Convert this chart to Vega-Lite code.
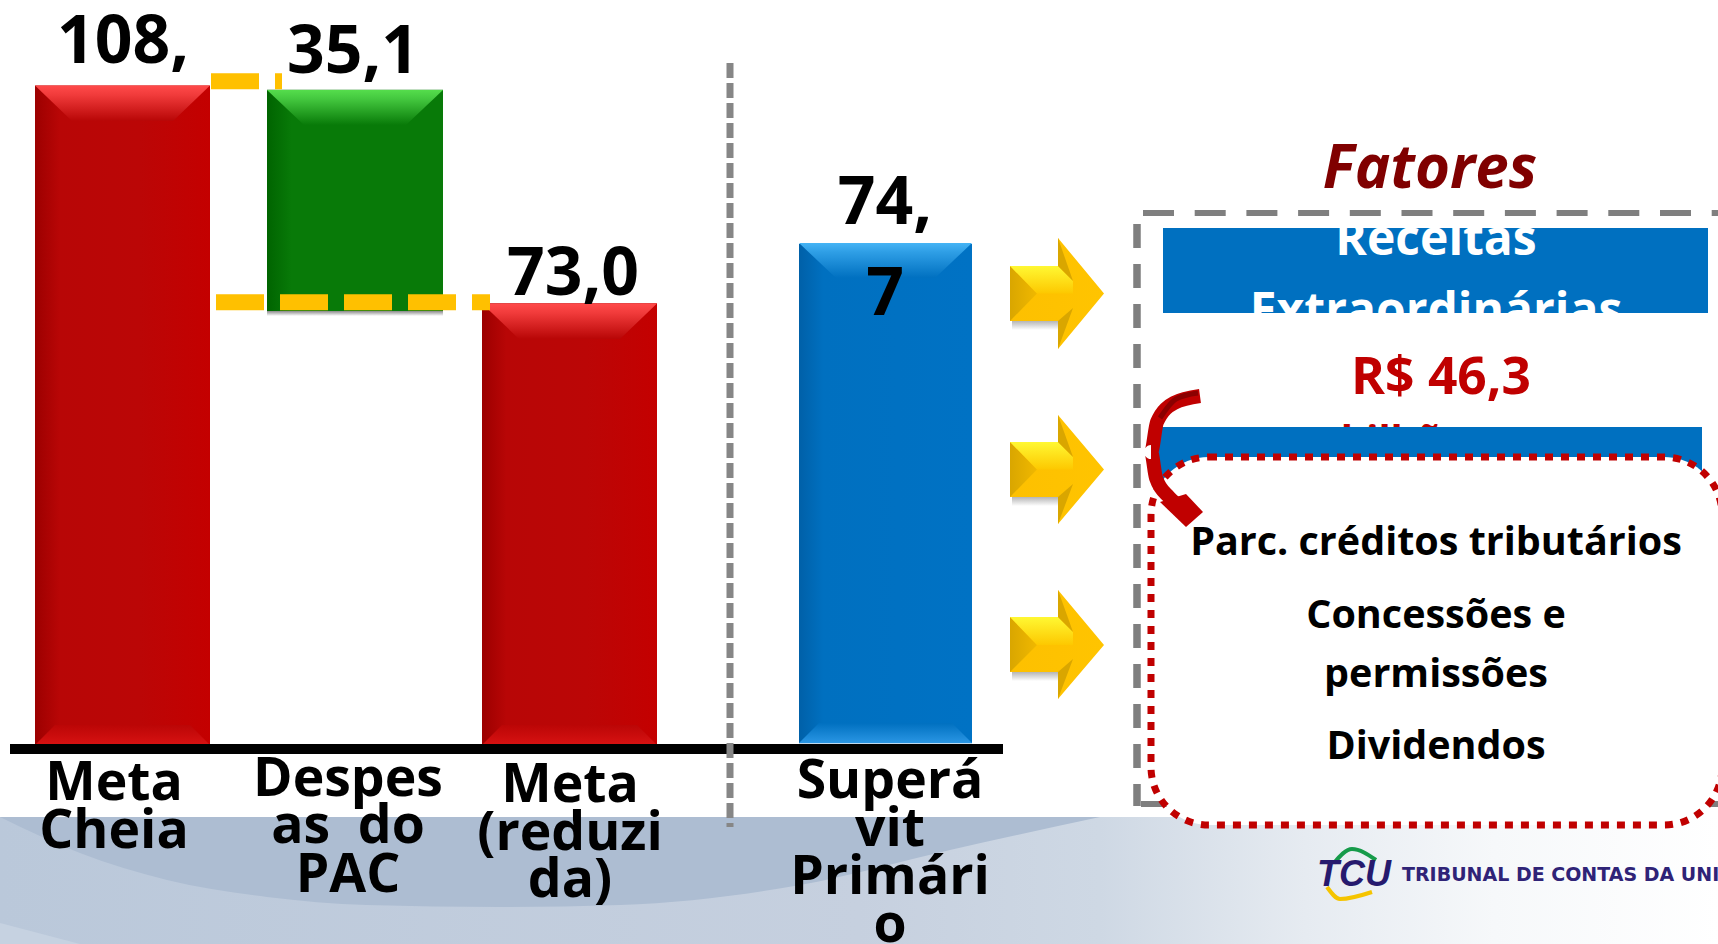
{"$schema":"https://vega.github.io/schema/vega-lite/v6.json","width":1718,"height":944,"padding":0,"autosize":{"type":"none"},"background":"white","config":{"view":{"stroke":null},"axis":{"disable":true},"legend":{"disable":true}},"resolve":{"scale":{"y":"independent"}},"layer":[
{"data":{"values":[{"a":0,"b":1718,"t":817,"u":944}]},"mark":{"type":"rect","color":{"gradient":"linear","x1":0,"x2":1,"y1":0,"y2":0,"stops":[{"offset":0,"color":"#bac8da"},{"offset":0.5,"color":"#c6d0df"},{"offset":0.64,"color":"#ced8e4"},{"offset":0.76,"color":"#e6ebf1"},{"offset":0.87,"color":"#f6f8fa"},{"offset":1,"color":"#ffffff"}]}},"encoding":{"x":{"field":"a","type":"quantitative","scale":{"domain":[0,1718],"nice":false,"zero":false},"axis":null},"x2":{"field":"b"},"y":{"field":"t","type":"quantitative","scale":{"domain":[944,0],"nice":false,"zero":false},"axis":null},"y2":{"field":"u"}}},
{"data":{"values":[{"x":0,"y":923,"f":944},{"x":80,"y":944,"f":944}]},"mark":{"type":"area","orient":"vertical","color":"#c6d2e1"},"encoding":{"x":{"field":"x","type":"quantitative","axis":null},"y":{"field":"y","type":"quantitative","scale":{"domain":[944,0],"nice":false,"zero":false},"axis":null},"y2":{"field":"f"}}},
{"data":{"values":[{"x":0,"y":817,"f":817},{"x":80,"y":817,"f":853},{"x":167,"y":817,"f":880},{"x":267,"y":817,"f":897},{"x":367,"y":817,"f":905},{"x":500,"y":817,"f":907},{"x":620,"y":817,"f":905},{"x":800,"y":817,"f":885},{"x":950,"y":817,"f":850},{"x":1100,"y":817,"f":817}]},"mark":{"type":"area","orient":"vertical","interpolate":"monotone","color":"#adbdd2"},"encoding":{"x":{"field":"x","type":"quantitative","axis":null},"y":{"field":"y","type":"quantitative","scale":{"domain":[944,0],"nice":false,"zero":false},"axis":null},"y2":{"field":"f"}}},
{"data":{"values":[{"categoria":"Meta Cheia","x0":35,"x1":210,"base":0,"topo":108.1},{"categoria":"Meta (reduzida)","x0":482,"x1":657,"base":0,"topo":72.4}]},"mark":{"type":"rect","color":{"gradient":"linear","x1":0,"x2":1,"y1":0,"y2":0,"stops":[{"offset":0,"color":"#9c0000"},{"offset":0.14,"color":"#b80606"},{"offset":0.6,"color":"#bb0606"},{"offset":1,"color":"#c40000"}]}},"encoding":{"x":{"field":"x0","type":"quantitative","axis":null},"x2":{"field":"x1"},"y":{"field":"topo","type":"quantitative","scale":{"domain":[-32.6,122.1],"nice":false,"zero":false},"axis":null},"y2":{"field":"base"}}},
{"data":{"values":[{"categoria":"Despesas do PAC","x0":267,"x1":443,"base":71.1,"topo":107.4}]},"mark":{"type":"rect","color":{"gradient":"linear","x1":0,"x2":1,"y1":0,"y2":0,"stops":[{"offset":0,"color":"#006400"},{"offset":0.14,"color":"#087a08"},{"offset":1,"color":"#087a08"}]}},"encoding":{"x":{"field":"x0","type":"quantitative","axis":null},"x2":{"field":"x1"},"y":{"field":"topo","type":"quantitative","scale":{"domain":[-32.6,122.1],"nice":false,"zero":false},"axis":null},"y2":{"field":"base"}}},
{"data":{"values":[{"categoria":"Superávit Primário","x0":799,"x1":972,"base":0.3,"topo":82.1}]},"mark":{"type":"rect","color":{"gradient":"linear","x1":0,"x2":1,"y1":0,"y2":0,"stops":[{"offset":0,"color":"#0060a8"},{"offset":0.14,"color":"#0070c0"},{"offset":1,"color":"#0072c4"}]}},"encoding":{"x":{"field":"x0","type":"quantitative","axis":null},"x2":{"field":"x1"},"y":{"field":"topo","type":"quantitative","scale":{"domain":[-32.6,122.1],"nice":false,"zero":false},"axis":null},"y2":{"field":"base"}}},
{"data":{"values":[{"d":"a","x":35,"y":85.5,"f":85.5},{"d":"a","x":72,"y":85.5,"f":121},{"d":"a","x":173,"y":85.5,"f":121},{"d":"a","x":210,"y":85.5,"f":85.5},{"d":"b","x":482,"y":303.5,"f":303.5},{"d":"b","x":519,"y":303.5,"f":339},{"d":"b","x":620,"y":303.5,"f":339},{"d":"b","x":657,"y":303.5,"f":303.5}]},"mark":{"type":"area","orient":"vertical","color":{"gradient":"linear","x1":0,"x2":0,"y1":0,"y2":1,"stops":[{"offset":0,"color":"#ff4a4a"},{"offset":0.25,"color":"#f23c3c"},{"offset":1,"color":"#b80606"}]}},"encoding":{"detail":{"field":"d"},"x":{"field":"x","type":"quantitative","axis":null},"y":{"field":"y","type":"quantitative","scale":{"domain":[944,0],"nice":false,"zero":false},"axis":null},"y2":{"field":"f"}}},
{"data":{"values":[{"d":"a","x":35,"y":745,"f":745},{"d":"a","x":55,"y":725,"f":745},{"d":"a","x":190,"y":725,"f":745},{"d":"a","x":210,"y":745,"f":745},{"d":"b","x":482,"y":745,"f":745},{"d":"b","x":502,"y":725,"f":745},{"d":"b","x":637,"y":725,"f":745},{"d":"b","x":657,"y":745,"f":745}]},"mark":{"type":"area","orient":"vertical","color":{"gradient":"linear","x1":0,"x2":0,"y1":0,"y2":1,"stops":[{"offset":0,"color":"#bb0606"},{"offset":1,"color":"#d81212"}]}},"encoding":{"detail":{"field":"d"},"x":{"field":"x","type":"quantitative","axis":null},"y":{"field":"y","type":"quantitative","scale":{"domain":[944,0],"nice":false,"zero":false},"axis":null},"y2":{"field":"f"}}},
{"data":{"values":[{"x":799,"y":743,"f":743},{"x":819,"y":723,"f":743},{"x":952,"y":723,"f":743},{"x":972,"y":743,"f":743}]},"mark":{"type":"area","orient":"vertical","color":{"gradient":"linear","x1":0,"x2":0,"y1":0,"y2":1,"stops":[{"offset":0,"color":"#0070c0"},{"offset":1,"color":"#2a96e4"}]}},"encoding":{"x":{"field":"x","type":"quantitative","axis":null},"y":{"field":"y","type":"quantitative","scale":{"domain":[944,0],"nice":false,"zero":false},"axis":null},"y2":{"field":"f"}}},
{"data":{"values":[{"x":267,"y":90,"f":90},{"x":304,"y":90,"f":125},{"x":406,"y":90,"f":125},{"x":443,"y":90,"f":90}]},"mark":{"type":"area","orient":"vertical","color":{"gradient":"linear","x1":0,"x2":0,"y1":0,"y2":1,"stops":[{"offset":0,"color":"#55dd4c"},{"offset":0.25,"color":"#44c83f"},{"offset":1,"color":"#087a08"}]}},"encoding":{"x":{"field":"x","type":"quantitative","axis":null},"y":{"field":"y","type":"quantitative","scale":{"domain":[944,0],"nice":false,"zero":false},"axis":null},"y2":{"field":"f"}}},
{"data":{"values":[{"x":799,"y":243,"f":243},{"x":836,"y":243,"f":278},{"x":935,"y":243,"f":278},{"x":972,"y":243,"f":243}]},"mark":{"type":"area","orient":"vertical","color":{"gradient":"linear","x1":0,"x2":0,"y1":0,"y2":1,"stops":[{"offset":0,"color":"#45b4f5"},{"offset":0.25,"color":"#2f9fe6"},{"offset":1,"color":"#0070c0"}]}},"encoding":{"x":{"field":"x","type":"quantitative","axis":null},"y":{"field":"y","type":"quantitative","scale":{"domain":[944,0],"nice":false,"zero":false},"axis":null},"y2":{"field":"f"}}},
{"data":{"values":[{"a":267,"b":443,"t":311,"u":316}]},"mark":{"type":"rect","color":{"gradient":"linear","x1":0,"x2":0,"y1":0,"y2":1,"stops":[{"offset":0,"color":"#8a8a8a"},{"offset":1,"color":"#ffffff"}]}},"encoding":{"x":{"field":"a","type":"quantitative","axis":null},"x2":{"field":"b"},"y":{"field":"t","type":"quantitative","scale":{"domain":[944,0],"nice":false,"zero":false},"axis":null},"y2":{"field":"u"}}},
{"data":{"values":[{"a":10,"b":1003,"t":744,"u":754}]},"mark":{"type":"rect","color":"#000000"},"encoding":{"x":{"field":"a","type":"quantitative","axis":null},"x2":{"field":"b"},"y":{"field":"t","type":"quantitative","scale":{"domain":[944,0],"nice":false,"zero":false},"axis":null},"y2":{"field":"u"}}},
{"data":{"values":[{"a":730,"t":63,"u":827}]},"mark":{"type":"rule","color":"#868686","strokeWidth":7,"strokeDash":[15,5]},"encoding":{"x":{"field":"a","type":"quantitative","axis":null},"y":{"field":"t","type":"quantitative","scale":{"domain":[944,0],"nice":false,"zero":false},"axis":null},"y2":{"field":"u"}}},
{"data":{"values":[{"a":211,"b":282,"t":81.3},{"a":216,"b":490,"t":302.3}]},"mark":{"type":"rule","color":"#ffc000","strokeWidth":16,"strokeDash":[48,16]},"encoding":{"x":{"field":"a","type":"quantitative","axis":null},"x2":{"field":"b"},"y":{"field":"t","type":"quantitative","scale":{"domain":[944,0],"nice":false,"zero":false},"axis":null}}},
{"data":{"values":[{"a":1143,"b":1718,"t":213},{"a":1141,"b":1718,"t":804}]},"mark":{"type":"rule","color":"#7f7f7f","strokeWidth":6,"strokeDash":[31,20.7]},"encoding":{"x":{"field":"a","type":"quantitative","axis":null},"x2":{"field":"b"},"y":{"field":"t","type":"quantitative","scale":{"domain":[944,0],"nice":false,"zero":false},"axis":null}}},
{"data":{"values":[{"a":1137,"t":224,"u":806}]},"mark":{"type":"rule","color":"#7f7f7f","strokeWidth":7.5,"strokeDash":[24,16]},"encoding":{"x":{"field":"a","type":"quantitative","axis":null},"y":{"field":"t","type":"quantitative","scale":{"domain":[944,0],"nice":false,"zero":false},"axis":null},"y2":{"field":"u"}}},
{"data":{"values":[{"d":"a1","a":1012,"b":1060,"t":321,"u":330},{"d":"a2","a":1012,"b":1060,"t":497,"u":506},{"d":"a3","a":1012,"b":1060,"t":672,"u":681}]},"mark":{"type":"rect","color":{"gradient":"linear","x1":0,"x2":0,"y1":0,"y2":1,"stops":[{"offset":0,"color":"#b5b5b5"},{"offset":1,"color":"#ffffff"}]}},"encoding":{"x":{"field":"a","type":"quantitative","axis":null},"x2":{"field":"b"},"y":{"field":"t","type":"quantitative","scale":{"domain":[944,0],"nice":false,"zero":false},"axis":null},"y2":{"field":"u"}}},
{"data":{"values":[{"d":"a1","x":1010,"y":266,"f":321},{"d":"a1","x":1058,"y":266,"f":321},{"d":"a1","x":1058,"y":238,"f":349},{"d":"a1","x":1104,"y":293.5,"f":293.5},{"d":"a2","x":1010,"y":442,"f":497},{"d":"a2","x":1058,"y":442,"f":497},{"d":"a2","x":1058,"y":415,"f":524},{"d":"a2","x":1104,"y":469.5,"f":469.5},{"d":"a3","x":1010,"y":617,"f":672},{"d":"a3","x":1058,"y":617,"f":672},{"d":"a3","x":1058,"y":590,"f":699},{"d":"a3","x":1104,"y":645,"f":645}]},"mark":{"type":"area","orient":"vertical","color":{"gradient":"linear","x1":0,"x2":1,"y1":0,"y2":0,"stops":[{"offset":0,"color":"#fdc000"},{"offset":1,"color":"#ffc400"}]}},"encoding":{"detail":{"field":"d"},"x":{"field":"x","type":"quantitative","axis":null},"y":{"field":"y","type":"quantitative","scale":{"domain":[944,0],"nice":false,"zero":false},"axis":null},"y2":{"field":"f"}}},
{"data":{"values":[{"d":"a1","x":1010,"y":266,"f":321},{"d":"a1","x":1037,"y":293.5,"f":293.5},{"d":"a2","x":1010,"y":442,"f":497},{"d":"a2","x":1037,"y":469.5,"f":469.5},{"d":"a3","x":1010,"y":617,"f":672},{"d":"a3","x":1037,"y":645,"f":645}]},"mark":{"type":"area","orient":"vertical","color":{"gradient":"linear","x1":0,"x2":1,"y1":0,"y2":0,"stops":[{"offset":0,"color":"#d9a600"},{"offset":1,"color":"#f0b800"}]}},"encoding":{"detail":{"field":"d"},"x":{"field":"x","type":"quantitative","axis":null},"y":{"field":"y","type":"quantitative","scale":{"domain":[944,0],"nice":false,"zero":false},"axis":null},"y2":{"field":"f"}}},
{"data":{"values":[{"d":"a1","x":1010,"y":266,"f":266},{"d":"a1","x":1037,"y":266,"f":293.5},{"d":"a1","x":1058,"y":266,"f":293.5},{"d":"a1","x":1073,"y":281,"f":293.5},{"d":"a2","x":1010,"y":442,"f":442},{"d":"a2","x":1037,"y":442,"f":469.5},{"d":"a2","x":1058,"y":442,"f":469.5},{"d":"a2","x":1073,"y":457,"f":469.5},{"d":"a3","x":1010,"y":617,"f":617},{"d":"a3","x":1037,"y":617,"f":645},{"d":"a3","x":1058,"y":617,"f":645},{"d":"a3","x":1073,"y":632,"f":645}]},"mark":{"type":"area","orient":"vertical","color":{"gradient":"linear","x1":0,"x2":0,"y1":0,"y2":1,"stops":[{"offset":0,"color":"#fff833"},{"offset":1,"color":"#fdc800"}]}},"encoding":{"detail":{"field":"d"},"x":{"field":"x","type":"quantitative","axis":null},"y":{"field":"y","type":"quantitative","scale":{"domain":[944,0],"nice":false,"zero":false},"axis":null},"y2":{"field":"f"}}},
{"data":{"values":[{"d":"a1u","x":1058,"y":238,"f":266},{"d":"a1u","x":1073,"y":281,"f":281},{"d":"a1l","x":1058,"y":321,"f":349},{"d":"a1l","x":1073,"y":308,"f":308},{"d":"a2u","x":1058,"y":415,"f":442},{"d":"a2u","x":1073,"y":457,"f":457},{"d":"a2l","x":1058,"y":497,"f":524},{"d":"a2l","x":1073,"y":484,"f":484},{"d":"a3u","x":1058,"y":590,"f":617},{"d":"a3u","x":1073,"y":632,"f":632},{"d":"a3l","x":1058,"y":672,"f":699},{"d":"a3l","x":1073,"y":659,"f":659}]},"mark":{"type":"area","orient":"vertical","color":"#d9a600"},"encoding":{"detail":{"field":"d"},"x":{"field":"x","type":"quantitative","axis":null},"y":{"field":"y","type":"quantitative","scale":{"domain":[944,0],"nice":false,"zero":false},"axis":null},"y2":{"field":"f"}}},
{"data":{"values":[{"t":"bilhões","x":1413,"y":454}]},"mark":{"type":"text","font":"Open Sans","fontWeight":"bold","fontSize":40,"color":"#c00000","align":"center","baseline":"alphabetic"},"encoding":{"text":{"field":"t"},"x":{"field":"x","type":"quantitative","axis":null},"y":{"field":"y","type":"quantitative","scale":{"domain":[944,0],"nice":false,"zero":false},"axis":null}}},
{"data":{"values":[{"a":1163,"b":1708,"t":228,"u":313},{"a":1158,"b":1702,"t":427,"u":480}]},"mark":{"type":"rect","color":"#0070c0"},"encoding":{"x":{"field":"a","type":"quantitative","axis":null},"x2":{"field":"b"},"y":{"field":"t","type":"quantitative","scale":{"domain":[944,0],"nice":false,"zero":false},"axis":null},"y2":{"field":"u"}}},
{"data":{"values":[{"t":"Receitas","x":1436,"y":255},{"t":"Extraordinárias","x":1436,"y":327}]},"mark":{"type":"text","font":"Open Sans","fontWeight":"bold","fontSize":48,"color":"#ffffff","align":"center","baseline":"alphabetic"},"encoding":{"text":{"field":"t"},"x":{"field":"x","type":"quantitative","axis":null},"y":{"field":"y","type":"quantitative","scale":{"domain":[944,0],"nice":false,"zero":false},"axis":null}}},
{"data":{"values":[{"a":1151,"b":1722,"t":457,"u":825}]},"mark":{"type":"rect","fill":"#ffffff","stroke":"#c00000","strokeWidth":7,"strokeDash":[8,8],"cornerRadius":58},"encoding":{"x":{"field":"a","type":"quantitative","axis":null},"x2":{"field":"b"},"y":{"field":"t","type":"quantitative","scale":{"domain":[944,0],"nice":false,"zero":false},"axis":null},"y2":{"field":"u"}}},
{"data":{"values":[{"x":1200,"y":396,"n":1},{"x":1174,"y":403,"n":2},{"x":1157,"y":422,"n":3},{"x":1151,"y":452,"n":4},{"x":1156,"y":478,"n":5},{"x":1169,"y":497,"n":6},{"x":1183,"y":508,"n":7}]},"mark":{"type":"line","color":"#c00000","strokeWidth":14,"interpolate":"monotone","orient":"horizontal"},"encoding":{"order":{"field":"n"},"x":{"field":"x","type":"quantitative","axis":null},"y":{"field":"y","type":"quantitative","scale":{"domain":[944,0],"nice":false,"zero":false},"axis":null}}},
{"data":{"values":[{"x":1198,"y":393,"n":1},{"x":1176,"y":399,"n":2},{"x":1160,"y":418,"n":3}]},"mark":{"type":"line","color":"#8b0000","strokeWidth":5,"interpolate":"monotone","orient":"horizontal"},"encoding":{"order":{"field":"n"},"x":{"field":"x","type":"quantitative","axis":null},"y":{"field":"y","type":"quantitative","scale":{"domain":[944,0],"nice":false,"zero":false},"axis":null}}},
{"data":{"values":[{"x":1160,"y":502,"f":502},{"x":1186,"y":494,"f":527},{"x":1203,"y":512,"f":512}]},"mark":{"type":"area","orient":"vertical","color":"#c00000"},"encoding":{"x":{"field":"x","type":"quantitative","axis":null},"y":{"field":"y","type":"quantitative","scale":{"domain":[944,0],"nice":false,"zero":false},"axis":null},"y2":{"field":"f"}}},
{"data":{"values":[{"t":"108,","x":123,"y":63},{"t":"35,1","x":353,"y":73},{"t":"73,0","x":573,"y":295},{"t":"74,","x":885,"y":224},{"t":"7","x":885,"y":315}]},"mark":{"type":"text","font":"Open Sans","fontWeight":"bold","fontSize":66,"color":"#000000","align":"center","baseline":"alphabetic"},"encoding":{"text":{"field":"t"},"x":{"field":"x","type":"quantitative","axis":null},"y":{"field":"y","type":"quantitative","scale":{"domain":[944,0],"nice":false,"zero":false},"axis":null}}},
{"data":{"values":[{"t":"Meta","x":114,"y":800},{"t":"Cheia","x":114,"y":848},{"t":"Despes","x":348,"y":796},{"t":"as\u00a0\u00a0do","x":348,"y":843},{"t":"PAC","x":348,"y":892},{"t":"Meta","x":570,"y":802},{"t":"(reduzi","x":570,"y":850},{"t":"da)","x":570,"y":897},{"t":"Superá","x":890,"y":798},{"t":"vit","x":890,"y":846},{"t":"Primári","x":890,"y":894},{"t":"o","x":890,"y":942}]},"mark":{"type":"text","font":"Open Sans","fontWeight":"bold","fontSize":53.5,"color":"#000000","align":"center","baseline":"alphabetic"},"encoding":{"text":{"field":"t"},"x":{"field":"x","type":"quantitative","axis":null},"y":{"field":"y","type":"quantitative","scale":{"domain":[944,0],"nice":false,"zero":false},"axis":null}}},
{"data":{"values":[{"t":"Fatores","x":1430,"y":188}]},"mark":{"type":"text","font":"Open Sans","fontWeight":"bold","fontStyle":"italic","fontSize":60,"color":"#800000","align":"center","baseline":"alphabetic"},"encoding":{"text":{"field":"t"},"x":{"field":"x","type":"quantitative","axis":null},"y":{"field":"y","type":"quantitative","scale":{"domain":[944,0],"nice":false,"zero":false},"axis":null}}},
{"data":{"values":[{"t":"R$ 46,3","x":1441,"y":394}]},"mark":{"type":"text","font":"Open Sans","fontWeight":"bold","fontSize":51.5,"color":"#c00000","align":"center","baseline":"alphabetic"},"encoding":{"text":{"field":"t"},"x":{"field":"x","type":"quantitative","axis":null},"y":{"field":"y","type":"quantitative","scale":{"domain":[944,0],"nice":false,"zero":false},"axis":null}}},
{"data":{"values":[{"t":"Parc. créditos tributários","x":1436,"y":555},{"t":"Concessões e","x":1436,"y":628},{"t":"permissões","x":1436,"y":687},{"t":"Dividendos","x":1436,"y":759}]},"mark":{"type":"text","font":"Open Sans","fontWeight":"bold","fontSize":39.5,"color":"#000000","align":"center","baseline":"alphabetic"},"encoding":{"text":{"field":"t"},"x":{"field":"x","type":"quantitative","axis":null},"y":{"field":"y","type":"quantitative","scale":{"domain":[944,0],"nice":false,"zero":false},"axis":null}}},
{"data":{"values":[{"d":"g","x":1334,"y":863,"n":1},{"d":"g","x":1352,"y":849,"n":2},{"d":"g","x":1376,"y":860,"n":3},{"d":"y","x":1327,"y":887,"n":1},{"d":"y","x":1340,"y":899,"n":2},{"d":"y","x":1372,"y":892,"n":3}]},"mark":{"type":"line","strokeWidth":4,"interpolate":"monotone"},"encoding":{"detail":{"field":"d"},"order":{"field":"n"},"color":{"field":"d","type":"nominal","scale":{"domain":["g","y"],"range":["#169b4a","#f5c400"]},"legend":null},"x":{"field":"x","type":"quantitative","axis":null},"y":{"field":"y","type":"quantitative","scale":{"domain":[944,0],"nice":false,"zero":false},"axis":null}}},
{"data":{"values":[{"t":"TCU","x":1354,"y":886}]},"mark":{"type":"text","font":"Liberation Sans","fontWeight":"bold","fontStyle":"italic","fontSize":36,"color":"#261a6e","align":"center","baseline":"alphabetic"},"encoding":{"text":{"field":"t"},"x":{"field":"x","type":"quantitative","axis":null},"y":{"field":"y","type":"quantitative","scale":{"domain":[944,0],"nice":false,"zero":false},"axis":null}}},
{"data":{"values":[{"t":"TRIBUNAL DE CONTAS DA UNIÃO","x":1402,"y":881}]},"mark":{"type":"text","font":"DejaVu Sans","fontWeight":"bold","fontSize":19,"color":"#2f2377","align":"left","baseline":"alphabetic"},"encoding":{"text":{"field":"t"},"x":{"field":"x","type":"quantitative","axis":null},"y":{"field":"y","type":"quantitative","scale":{"domain":[944,0],"nice":false,"zero":false},"axis":null}}}
]}
